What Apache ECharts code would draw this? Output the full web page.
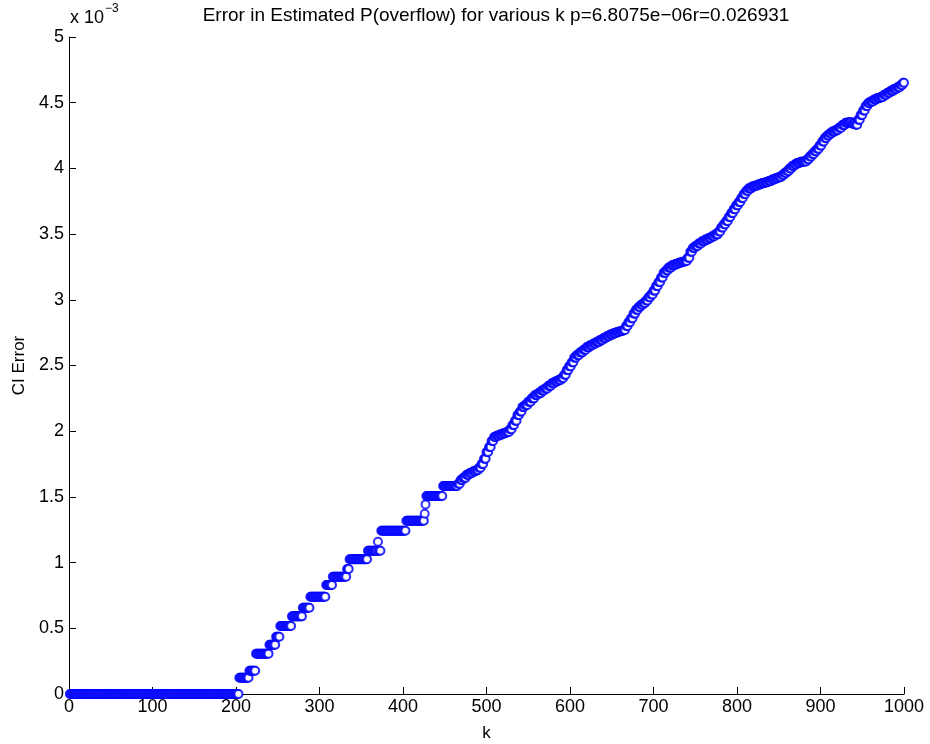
<!DOCTYPE html>
<html>
<head>
<meta charset="utf-8">
<script src="https://cdn.jsdelivr.net/npm/echarts@6/dist/echarts.min.js"></script>
<style>
  html, body { margin: 0; padding: 0; background: #fff; }
  #chart { width: 930px; height: 744px; }
</style>
</head>
<body>
<div id="chart"></div>
<script>
// CI error per k, stored as runs: each run starts at runStartK and holds
// its value (in units of 1e-3) until the next run starts; the last run ends at kMax.
const kMin = 1;
const kMax = 1000;

const runStartK = [
  1, 204, 216, 224, 240, 248, 253, 267, 280, 289, 308, 316, 333, 336, 358, 370, 371,
  374, 404, 426, 427, 428, 448,
  466, 469, 472, 476, 480, 484, 488, 491, 494, 497, 500, 503, 506, 509, 512, 516, 520,
  524, 528, 531, 534, 537, 540, 543, 546, 550, 554, 558, 562, 566, 570, 574, 578, 582,
  586, 590, 593, 596, 599, 602, 605, 608, 612, 616, 620, 624, 628, 632, 636, 640, 644,
  648, 652, 656, 660, 664, 667, 670, 673, 676, 679, 682, 685, 688, 691, 694, 697, 700,
  703, 706, 709, 712, 715, 718, 722, 726, 730, 734, 738, 741, 744, 747, 750, 754, 758,
  762, 766, 770, 774, 778, 781, 784, 787, 790, 793, 796, 799, 802, 805, 808, 811, 814,
  818, 822, 826, 830, 834, 838, 842, 846, 850, 854, 857, 860, 863, 866, 869, 872, 876,
  880, 884, 887, 890, 893, 896, 899, 902, 905, 908, 911, 914, 918, 922, 926, 930, 934,
  938, 942, 945, 948, 951, 954, 957, 960, 964, 968, 972, 976, 980, 984, 988, 992, 996, 999
];

const runErrorE3 = [
  0, 0.124, 0.177, 0.307, 0.375, 0.436, 0.517, 0.591, 0.657, 0.740, 0.829, 0.893, 0.951, 1.025, 1.090, 1.159, 1.090,
  1.243, 1.319, 1.372, 1.443, 1.507, 1.583,
  1.600, 1.629, 1.645, 1.668, 1.682, 1.695, 1.705, 1.722, 1.750, 1.790, 1.842, 1.880, 1.925, 1.956, 1.965, 1.975, 1.985,
  1.994, 2.015, 2.047, 2.080, 2.123, 2.150, 2.185, 2.200, 2.225, 2.250, 2.275, 2.290, 2.310, 2.325, 2.345, 2.365, 2.378,
  2.390, 2.405, 2.430, 2.465, 2.495, 2.525, 2.560, 2.580, 2.600, 2.620, 2.640, 2.655, 2.668, 2.680, 2.695, 2.709, 2.722,
  2.735, 2.745, 2.755, 2.762, 2.770, 2.800, 2.830, 2.860, 2.895, 2.925, 2.945, 2.962, 2.976, 2.995, 3.020, 3.040, 3.070,
  3.105, 3.135, 3.170, 3.205, 3.225, 3.245, 3.262, 3.272, 3.282, 3.290, 3.295, 3.320, 3.365, 3.394, 3.410, 3.428, 3.445,
  3.458, 3.470, 3.483, 3.498, 3.520, 3.550, 3.575, 3.600, 3.630, 3.660, 3.690, 3.720, 3.744, 3.775, 3.805, 3.830, 3.848,
  3.862, 3.870, 3.880, 3.888, 3.895, 3.905, 3.915, 3.925, 3.935, 3.950, 3.965, 3.980, 4.000, 4.018, 4.030, 4.042, 4.050,
  4.052, 4.070, 4.090, 4.110, 4.130, 4.150, 4.175, 4.205, 4.232, 4.250, 4.265, 4.280, 4.292, 4.310, 4.330, 4.348, 4.352,
  4.340, 4.332, 4.370, 4.406, 4.440, 4.475, 4.498, 4.510, 4.525, 4.535, 4.543, 4.560, 4.576, 4.590, 4.605, 4.618, 4.635, 4.652
];

const xTicks = ['0', '100', '200', '300', '400', '500', '600', '700', '800', '900', '1000'];
const yTicks = ['0', '0.5', '1', '1.5', '2', '2.5', '3', '3.5', '4', '4.5', '5'];

const titleText = 'Error in Estimated P(overflow) for various k p=6.8075e\u221206r=0.026931';

// expand the runs into one point per k
const points = [];
for (let i = 0; i < runStartK.length; i++) {
  const last = i + 1 < runStartK.length ? runStartK[i + 1] - 1 : kMax;
  for (let k = Math.max(runStartK[i], kMin); k <= last; k++) {
    points.push([k, runErrorE3[i]]);
  }
}

const font = '"Liberation Sans", Arial, Helvetica, sans-serif';
const chart = echarts.init(document.getElementById('chart'), null, { renderer: 'canvas' });

chart.setOption({
  backgroundColor: '#ffffff',
  animation: false,
  title: {
    text: titleText,
    left: 491,
    textAlign: 'center',
    top: 1,
    textStyle: { fontFamily: font, fontSize: 19, fontWeight: 'normal', color: '#000' }
  },
  grid: {
    left: 69, right: 26, top: 37, bottom: 50,
    containLabel: false,
    outerBoundsMode: 'none'
  },
  xAxis: {
    type: 'value',
    min: 0,
    max: 1000,
    interval: 100,
    name: 'k',
    nameLocation: 'middle',
    nameGap: 31,
    nameTextStyle: { fontFamily: font, fontSize: 17, color: '#000' },
    axisLine: { show: true, onZero: false, lineStyle: { color: '#000', width: 1 } },
    axisTick: { show: true, inside: true, length: 7, lineStyle: { color: '#000' } },
    axisLabel: {
      fontFamily: font, fontSize: 18, color: '#000', margin: 4,
      formatter: (v) => xTicks[Math.round(v / 100)]
    },
    splitLine: { show: false }
  },
  yAxis: {
    type: 'value',
    min: 0,
    max: 5,
    interval: 0.5,
    name: 'CI Error',
    nameLocation: 'middle',
    nameGap: 40,
    nameRotate: 90,
    nameTextStyle: { fontFamily: font, fontSize: 17, color: '#000' },
    axisLine: { show: true, onZero: false, lineStyle: { color: '#000', width: 1 } },
    axisTick: { show: true, inside: true, length: 7, lineStyle: { color: '#000' } },
    axisLabel: {
      fontFamily: font, fontSize: 18, color: '#000', margin: 5,
      formatter: (v) => yTicks[Math.round(v / 0.5)]
    },
    splitLine: { show: false }
  },
  graphic: [
    {
      type: 'text', left: 70, top: 9,
      style: { text: 'x 10', font: '18px ' + font, fill: '#000' }
    },
    {
      type: 'text', left: 105, top: 3,
      style: { text: '\u22123', font: '12px ' + font, fill: '#000' }
    }
  ],
  series: [{
    type: 'scatter',
    data: points,
    symbol: 'emptyCircle',
    symbolSize: 8,
    itemStyle: { color: '#0000ff', borderColor: '#0000ff', borderWidth: 1.2 },
    emphasis: { disabled: true },
    clip: false
  }]
});
</script>
</body>
</html>
